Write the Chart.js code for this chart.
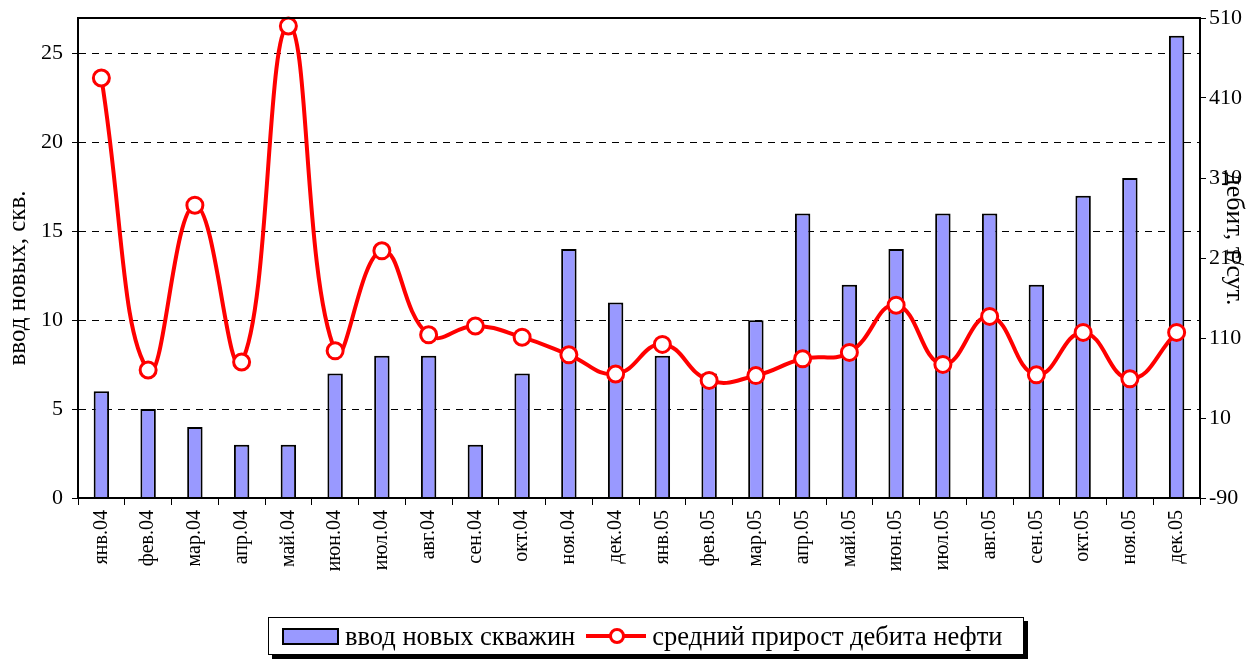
<!DOCTYPE html>
<html>
<head>
<meta charset="utf-8">
<script src="https://cdn.jsdelivr.net/npm/chart.js@4.4.1/dist/chart.umd.min.js"></script>
<style>
  html, body { margin: 0; padding: 0; background: #fff; }
  #wrap { position: relative; width: 1260px; height: 660px; }
  #legend {
    position: absolute; left: 268px; top: 617px; width: 756px; height: 38px;
    border: 1px solid #000; box-shadow: 4px 4px 0 #000; background: #fff;
    font-family: "Liberation Serif", "Times New Roman", serif; font-size: 26.5px;
    display: flex; align-items: center; box-sizing: border-box; padding-left: 13px; white-space: nowrap;
  }
  .sw { display: inline-block; width: 57px; height: 17px; background: #9999ff; border: 2px solid #000; box-sizing: border-box; margin-right: 6px; }
  .ln { position: relative; display: inline-block; width: 60px; height: 20px; margin: 0 6px 0 11px; }
  .ln:before { content: ""; position: absolute; left: 0; right: 0; top: 8px; height: 4px; background: #ff0000; }
  .ln:after { content: ""; position: absolute; left: 23px; top: 2px; width: 10px; height: 10px; border: 3px solid #ff0000; border-radius: 50%; background: #fff; }
</style>
</head>
<body>
<div id="wrap">
  <canvas id="chart" width="1260" height="660"></canvas>
  <div id="legend"><span class="sw"></span>ввод новых скважин<span class="ln"></span>средний прирост дебита нефти</div>
</div>
<script>
const months = ["янв.04","фев.04","мар.04","апр.04","май.04","июн.04","июл.04","авг.04","сен.04","окт.04","ноя.04","дек.04",
                "янв.05","фев.05","мар.05","апр.05","май.05","июн.05","июл.05","авг.05","сен.05","окт.05","ноя.05","дек.05"];
const newWells = [6,5,4,3,3,7,8,8,3,7,14,11,8,7,10,16,12,14,16,16,12,17,18,26];
const oilGain = [435,70,276,80,500,94,219,114,125,111,89,65,102,57,63,84,92,151,77,137,64,117,59,117];
const leftTicks = [0,5,10,15,20,25];
const rightTicks = [-90,10,110,210,310,410,510];

const FONT = '"Liberation Serif", "Times New Roman", serif';

const framePlugin = {
  id: 'frame',
  afterDraw(chart) {
    const {ctx, chartArea: a} = chart;
    ctx.save();
    ctx.strokeStyle = '#000';
    ctx.lineWidth = 2;
    ctx.strokeRect(a.left, a.top, a.right - a.left, a.bottom - a.top);
    ctx.fillStyle = '#000';
    ctx.font = '25px ' + FONT;
    ctx.textAlign = 'center';
    ctx.textBaseline = 'middle';
    ctx.translate(18, 278);
    ctx.rotate(-Math.PI / 2);
    ctx.fillText('ввод новых, скв.', 0, 0);
    ctx.restore();
    ctx.save();
    ctx.fillStyle = '#000';
    ctx.font = '26px ' + FONT;
    ctx.textAlign = 'center';
    ctx.textBaseline = 'middle';
    ctx.translate(1234, 239);
    ctx.rotate(Math.PI / 2);
    ctx.fillText('дебит, т/сут.', 0, 0);
    ctx.restore();
  }
};

new Chart(document.getElementById('chart'), {
  data: {
    labels: months,
    datasets: [
      {
        type: 'line', label: 'средний прирост дебита нефти', data: oilGain, yAxisID: 'y2',
        borderColor: '#ff0000', borderWidth: 4, tension: 0.45,
        pointRadius: 8, pointBorderWidth: 3, pointBackgroundColor: '#fff', pointBorderColor: '#ff0000',
        clip: false, order: 0
      },
      {
        type: 'bar', label: 'ввод новых скважин', data: newWells, yAxisID: 'y',
        backgroundColor: '#9999ff', borderColor: '#000', borderWidth: 2,
        barPercentage: 0.33, categoryPercentage: 1, order: 1
      }
    ]
  },
  options: {
    responsive: false,
    animation: false,
    layout: { padding: { top: 18, left: 0, right: 0, bottom: 0 } },
    plugins: { legend: { display: false }, tooltip: { enabled: false } },
    scales: {
      x: {
        offset: true,
        grid: { display: true, drawOnChartArea: false, offset: true, color: '#000', tickLength: 7, tickWidth: 1 },
        border: { color: '#000', width: 2 },
        ticks: { color: '#000', font: { family: FONT, size: 20 }, minRotation: 90, maxRotation: 90, autoSkip: false, padding: 5 },
        afterFit(s) { s.height = 162; }
      },
      y: {
        position: 'left', min: 0, max: 27,
        afterBuildTicks(s) { s.ticks = leftTicks.map(v => ({value: v})); },
        grid: {
          color: ctx => ctx.tick && ctx.tick.value === 0 ? 'rgba(0,0,0,0)' : '#000',
          lineWidth: 1, tickLength: 6, tickColor: '#000', drawTicks: true
        },
        border: { color: '#000', width: 2, dash: [7, 6] },
        ticks: { color: '#000', font: { family: FONT, size: 22 }, padding: 9 },
        afterFit(s) { s.width = 78; s.paddingTop = 0; }
      },
      y2: {
        position: 'right', min: -90, max: 510,
        afterBuildTicks(s) { s.ticks = rightTicks.map(v => ({value: v})); },
        grid: { drawOnChartArea: false, color: '#000', tickLength: 6 },
        border: { color: '#000', width: 2 },
        ticks: { color: '#000', font: { family: FONT, size: 22 }, padding: 3 },
        afterFit(s) { s.width = 60; s.paddingTop = 0; }
      }
    }
  },
  plugins: [framePlugin]
});
</script>
</body>
</html>
